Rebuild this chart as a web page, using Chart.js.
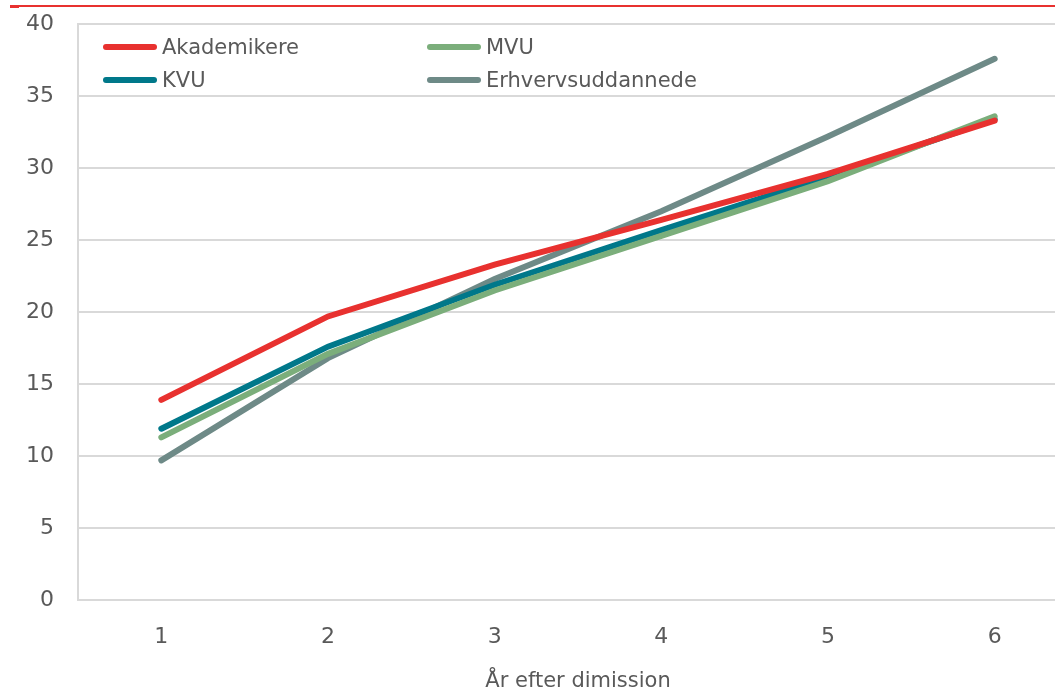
<!DOCTYPE html>
<html>
<head>
<meta charset="utf-8">
<script src="https://cdn.jsdelivr.net/npm/chart.js@4/dist/chart.umd.min.js"></script>
<style>
    html, body { margin: 0; padding: 0; background: #fff; overflow: hidden; }
    #wrap { position: relative; width: 1055px; height: 692px; overflow: hidden; }
    #box { position: absolute; left: 0; top: -13px; width: 1078px; height: 705px; }
    #topline { position: absolute; left: 10px; top: 5px; width: 1045px; height: 2px; background: #e8312f; }
    #topdash { position: absolute; left: 10px; top: 5px; width: 9px; height: 3px; background: #e8312f; }
    #legend { position: absolute; left: 103px; top: 33px; font-family: "DejaVu Sans", sans-serif; font-size: 21px; color: #595959; }
    .item { position: absolute; white-space: nowrap; display: flex; align-items: center; height: 28px; }
    .swatch { display: inline-block; width: 54px; height: 6px; border-radius: 3px; margin-right: 5px; }
</style>
</head>
<body>
<div id="wrap">
    <div id="box"><canvas id="chart"></canvas></div>
    <div id="topline"></div>
    <div id="topdash"></div>
    <div id="legend"></div>
</div>
<script>
const years = ['1', '2', '3', '4', '5', '6'];
const akademikere = [13.9, 19.7, 23.3, 26.4, 29.6, 33.3];
const mvu = [11.3, 17.1, 21.5, 25.3, 29.1, 33.6];
const kvu = [11.9, 17.6, 21.9, 25.7, 29.4, 33.4];
const erhverv = [9.7, 16.8, 22.3, 27.0, 32.2, 37.6];
const yTicks = [0, 5, 10, 15, 20, 25, 30, 35, 40];

const series = [
    { label: 'Akademikere', data: akademikere, color: '#e8312f' },
    { label: 'MVU', data: mvu, color: '#7bae7b' },
    { label: 'KVU', data: kvu, color: '#00788a' },
    { label: 'Erhvervsuddannede', data: erhverv, color: '#6e8a87' },
];

// legend slots: two columns, two rows
const slots = [[0, 0], [324, 0], [0, 33], [324, 33]];
const legend = document.getElementById('legend');
series.forEach((s, i) => {
    const el = document.createElement('div');
    el.className = 'item';
    el.style.left = slots[i][0] + 'px';
    el.style.top = slots[i][1] + 'px';
    el.innerHTML = `<span class="swatch" style="background:${s.color}"></span>${s.label}`;
    legend.appendChild(el);
});

const font = { family: '"DejaVu Sans", sans-serif', size: 21 };
const tickFont = { family: '"DejaVu Sans", sans-serif', size: 22 };

new Chart(document.getElementById('chart'), {
    type: 'line',
    data: {
        labels: years,
        datasets: series.map(s => ({
            label: s.label,
            data: s.data,
            borderColor: s.color,
            backgroundColor: s.color,
            borderWidth: 6,
            pointRadius: 0,
            borderCapStyle: 'round',
            tension: 0,
        })),
    },
    options: {
        responsive: true,
        maintainAspectRatio: false,
        animation: false,
        layout: { padding: { top: 11, right: 0, bottom: 0, left: 0 } },
        plugins: {
            legend: { display: false },
            tooltip: { enabled: false },
        },
        scales: {
            x: {
                offset: true,
                grid: { display: false, drawTicks: false },
                border: { color: '#d9d9d9', width: 2 },
                ticks: { color: '#595959', font: tickFont, padding: 24 },
                title: {
                    display: true,
                    text: 'År efter dimission',
                    color: '#595959',
                    font,
                    padding: { top: 19, bottom: -2 },
                },
                afterFit: axis => { axis.height = 92; },
            },
            y: {
                min: 0,
                max: 40,
                afterBuildTicks: axis => { axis.ticks = yTicks.map(v => ({ value: v })); },
                grid: { color: '#d9d9d9', lineWidth: 2, drawTicks: false },
                border: { color: '#d9d9d9', width: 2 },
                ticks: { color: '#595959', font: tickFont, padding: 24 },
                afterFit: axis => { axis.width = 78; },
            },
        },
    },
});
</script>
</body>
</html>
